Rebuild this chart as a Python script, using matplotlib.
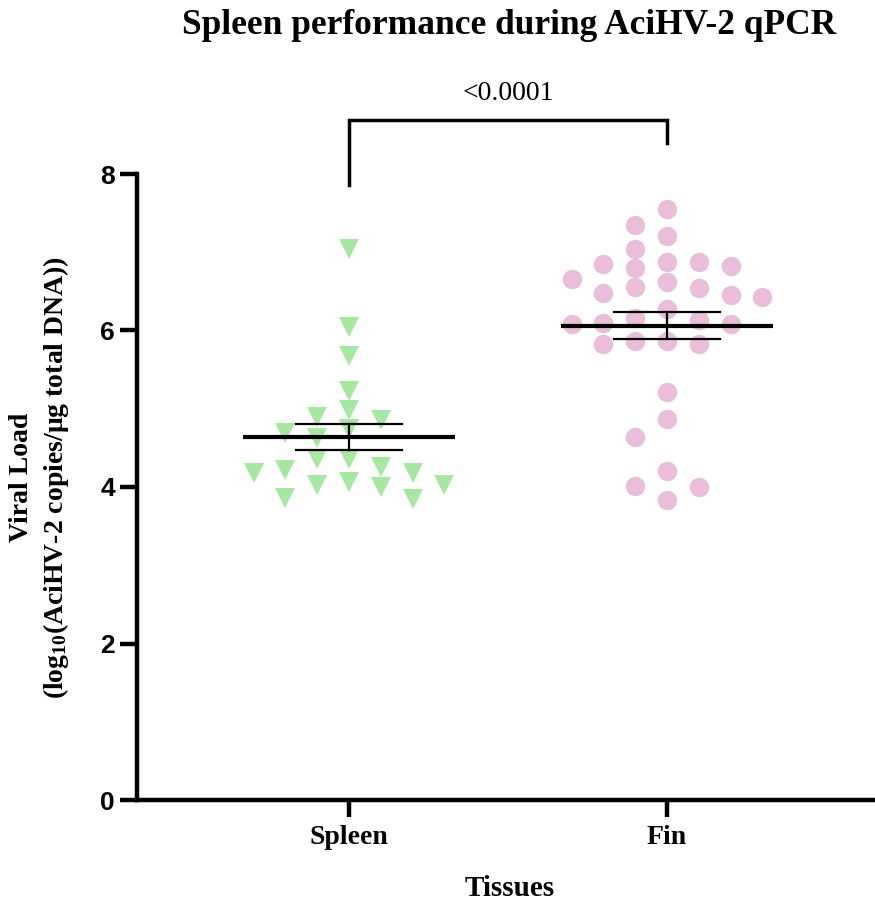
import numpy as np
import matplotlib
matplotlib.use("Agg")
import matplotlib.pyplot as plt

# ---------------- data ----------------
categories = ["Spleen", "Fin"]
spleen_values = [7.04, 6.04, 5.68, 5.23, 4.98, 4.86, 4.89, 4.63, 4.74, 4.69, 4.36,
                 4.36, 4.25, 4.18, 4.22, 4.18, 4.00, 4.02, 4.06, 4.03, 3.85, 3.86]
fin_values = [7.55, 7.35, 7.21, 7.04, 6.87, 6.82, 6.88, 6.80, 6.85, 6.66, 6.62,
              6.46, 6.48, 6.55, 6.54, 6.43, 6.27, 6.08, 6.08, 6.16, 6.10, 6.14,
              5.83, 5.83, 5.86, 5.86, 5.22, 4.87, 4.64, 4.20, 4.01, 4.00, 3.83]
y_ticks = [0, 2, 4, 6, 8]
p_label = "<0.0001"

# ---------------- style ----------------
SERIF = "Liberation Serif"
SANS = "Liberation Sans"
plt.rcParams["mathtext.fontset"] = "custom"
plt.rcParams["mathtext.rm"] = "Liberation Serif:bold"
plt.rcParams["mathtext.it"] = "Liberation Serif:bold"
plt.rcParams["mathtext.bf"] = "Liberation Serif:bold"

green = "#a6e89f"
pink = "#eabedb"


def swarm_offsets(vals, d, step, max_slot=6):
    order = np.argsort(vals)[::-1]
    placed = {}
    offs = np.zeros(len(vals))
    cands = [0]
    for k in range(1, max_slot + 1):
        cands += [-k, k]
    for i in order:
        v = vals[i]
        for c in cands:
            if all(abs(v - w) >= d for w in placed.get(c, [])):
                placed.setdefault(c, []).append(v)
                offs[i] = c * step
                break
    return offs


fig = plt.figure(figsize=(8.75, 9.05), dpi=100)
W, H = 875, 905
ax_left, ax_right, ax_top, ax_bot = 137, 875, 174, 800
ax = fig.add_axes([ax_left / W, 1 - ax_bot / H, (ax_right - ax_left) / W, (ax_bot - ax_top) / H])

x_pos = np.arange(len(categories))
series = [(spleen_values, "v", green, 14), (fin_values, "o", pink, 14)]
for xc, (vals, mk, col, ms) in zip(x_pos, series):
    vals = np.asarray(vals)
    offs = swarm_offsets(vals, 0.235, 0.1)
    ax.plot(xc + offs, vals, linestyle="none", marker=mk, markersize=ms,
            color=col, markeredgewidth=0, zorder=2)
    m = vals.mean()
    sem = vals.std(ddof=1) / np.sqrt(len(vals))
    ax.plot([xc - 0.333, xc + 0.333], [m, m], color="black", lw=3.0, zorder=3,
            solid_capstyle="butt")
    ax.plot([xc - 0.168, xc + 0.168], [m + sem, m + sem], color="black", lw=1.6, zorder=3)
    ax.plot([xc - 0.168, xc + 0.168], [m - sem, m - sem], color="black", lw=1.6, zorder=3)
    ax.plot([xc, xc], [m - sem, m + sem], color="black", lw=1.6, zorder=3)

ax.set_xlim((ax_left - 349) / 318, (ax_right - 349) / 318)
ax.set_ylim(0, 8)
ax.set_yticks(y_ticks)
ax.set_yticklabels([str(t) for t in y_ticks], fontfamily=SANS, fontweight="bold", fontsize=19)
ax.set_xticks(x_pos)
ax.set_xticklabels(categories, fontfamily=SERIF, fontweight="bold", fontsize=20)
ax.tick_params(axis="both", width=3.2, length=12)
ax.tick_params(axis="y", pad=4)
ax.tick_params(axis="x", pad=6)
for s in ["top", "right"]:
    ax.spines[s].set_visible(False)
for s in ["left", "bottom"]:
    ax.spines[s].set_linewidth(3.2)

# significance bracket
ax.plot([0, 0, 1, 1], [7.86, 8.69, 8.69, 8.40], color="black", lw=2.5,
        clip_on=False, solid_joinstyle="miter")
ax.text(0.5, 8.87, p_label, ha="center", va="bottom", fontfamily=SERIF, fontsize=20)

fig.text(509 / W, 1 - 26 / H, "Spleen performance during AciHV-2 qPCR", ha="center",
         va="center", fontfamily=SERIF, fontweight="bold", fontsize=25.5)
fig.text(510 / W, 1 - 888 / H, "Tissues", ha="center", va="center",
         fontfamily=SERIF, fontweight="bold", fontsize=21)
fig.text(22 / W, 1 - 477 / H, "Viral Load", rotation=90, ha="center", va="center",
         fontfamily=SERIF, fontweight="bold", fontsize=20)
fig.text(56 / W, 1 - 477 / H, r"(log$_{10}$(AciHV-2 copies/μg total DNA))", rotation=90,
         ha="center", va="center", fontfamily=SERIF, fontweight="bold", fontsize=20)

fig.savefig("out.png", dpi=100)
